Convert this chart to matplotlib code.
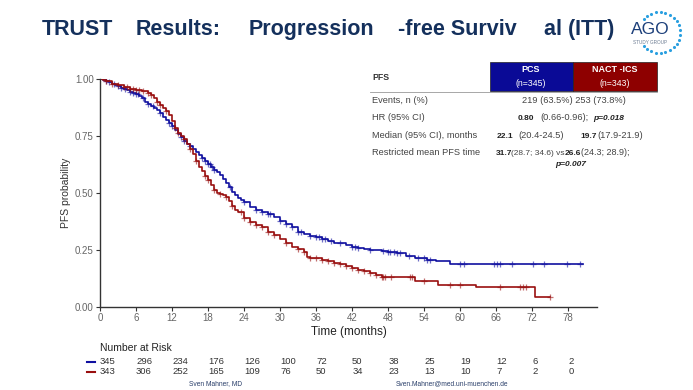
import numpy as np
import matplotlib
matplotlib.use("Agg")
import matplotlib.pyplot as plt
from matplotlib.patches import Rectangle
from matplotlib.transforms import blended_transform_factory

plt.rcParams['font.family'] = ['Liberation Sans', 'DejaVu Sans']

# step points of the two Kaplan-Meier curves (months, PFS probability)
pcs_t = [0, 0.5, 1, 1.5, 2, 2.5, 3, 3.5, 4, 4.5, 5, 5.5, 6, 6.5, 7, 7.5, 8, 8.5, 9, 9.5,
         10, 10.5, 11, 11.5, 12, 12.5, 13, 13.5, 14, 14.5, 15, 15.5, 16, 16.5, 17, 17.5,
         18, 18.5, 19, 19.5, 20, 20.5, 21, 21.5, 22, 22.5, 23, 23.5, 24, 25, 26, 27, 28,
         29, 30, 31, 32, 33, 34, 35, 36, 37, 38, 39, 41, 42, 43, 44, 45, 46, 47, 48, 49.5,
         51, 52.5, 54.5, 56, 58.3, 80.5]
pcs_s = [1.0, 0.995, 0.99, 0.985, 0.98, 0.975, 0.97, 0.962, 0.955, 0.95, 0.945, 0.94, 0.935,
         0.925, 0.915, 0.9, 0.89, 0.882, 0.874, 0.862, 0.85, 0.835, 0.82, 0.808, 0.795, 0.775,
         0.757, 0.745, 0.73, 0.717, 0.705, 0.692, 0.678, 0.665, 0.652, 0.642, 0.628, 0.615,
         0.603, 0.592, 0.58, 0.563, 0.545, 0.525, 0.505, 0.49, 0.478, 0.47, 0.46, 0.44, 0.425,
         0.415, 0.41, 0.395, 0.378, 0.363, 0.35, 0.33, 0.318, 0.31, 0.305, 0.3, 0.29, 0.28,
         0.272, 0.265, 0.26, 0.256, 0.252, 0.25, 0.245, 0.24, 0.236, 0.222, 0.215, 0.206, 0.2,
         0.189, 0.189]
nact_t = [0, 0.5, 1, 2, 3, 4, 5, 6, 7, 8, 8.5, 9, 9.5, 10, 10.5, 11, 11.5, 12, 12.5, 13,
          13.5, 14, 14.5, 15, 15.5, 16, 16.5, 17, 17.5, 18, 18.5, 19, 19.5, 20, 20.5, 21,
          21.5, 22, 22.5, 23, 24, 25, 26, 27, 28, 29, 30, 31, 32, 33, 34, 34.5, 35, 37, 38,
          39, 40, 41, 42, 43, 44, 45, 46, 47, 52.4, 56.3, 62.6, 72.4, 75]
nact_s = [1.0, 0.995, 0.99, 0.98, 0.972, 0.965, 0.958, 0.952, 0.947, 0.94, 0.93, 0.915, 0.9,
          0.888, 0.875, 0.86, 0.84, 0.815, 0.785, 0.765, 0.75, 0.735, 0.715, 0.695, 0.67,
          0.64, 0.615, 0.595, 0.575, 0.555, 0.535, 0.515, 0.5, 0.495, 0.49, 0.482, 0.465,
          0.445, 0.425, 0.415, 0.39, 0.375, 0.36, 0.35, 0.33, 0.315, 0.3, 0.28, 0.265, 0.255,
          0.24, 0.22, 0.215, 0.208, 0.2, 0.195, 0.188, 0.18, 0.172, 0.163, 0.157, 0.15, 0.14,
          0.133, 0.114, 0.096, 0.086, 0.045, 0.045]

# censoring times
pcs_cens = [1, 1.5, 2.3, 3, 3.5, 4.2, 5, 5.5, 6, 6.3, 7.2, 8, 8.8, 10, 11.5, 12, 13.5, 14, 15,
            17, 17.5, 18, 18.3, 18.7, 19, 21.7, 24, 26, 27, 28, 28.3, 30, 31, 32, 33, 33.5, 35,
            36, 36.5, 37, 37.5, 38.5, 40, 42, 42.5, 43, 45, 47.2, 48, 48.3, 49, 49.5, 50, 51.5,
            53, 54, 54.5, 55, 60, 60.6, 65.6, 66.1, 66.7, 68.6, 72.2, 73.9, 77.8, 80]
nact_cens = [1, 2, 3, 4, 4.5, 5, 5.5, 6, 6.5, 7.2, 8, 8.5, 9.5, 10, 11, 12.5, 13, 14, 15, 16,
             17.5, 18, 19, 20, 21, 22, 23.5, 24, 25, 26, 27, 28, 29, 31, 33, 34, 35, 36, 37,
             38, 39, 40, 41, 42, 43, 44, 45, 46, 47, 47.2, 47.5, 48.5, 51.7, 52, 53.9, 58.3,
             60, 66.7, 70, 70.5, 71, 75]

risk_times = [0, 6, 12, 18, 24, 30, 36, 42, 48, 54, 60, 66, 72, 78]
pcs_risk = [345, 296, 234, 176, 126, 100, 72, 50, 38, 25, 19, 12, 6, 2]
nact_risk = [343, 306, 252, 165, 109, 76, 50, 34, 23, 13, 10, 7, 2, 0]

title_words = ['TRUST', 'Results:', 'Progression', '-free Surviv', 'al (ITT)']
title_x = [42, 136, 249, 398, 544]

blue = '#1010a0'
red = '#990f0f'
navy = '#14305c'
W, H = 693, 390

fig = plt.figure(figsize=(6.93, 3.9), dpi=100)
ax = fig.add_axes([100 / W, 1 - 307 / H, 497 / W, 228 / H])


def step_value(t, ts, ss):
    i = np.searchsorted(ts, t, side='right') - 1
    return np.array(ss)[i]


for ts, ss, cens, c in [(pcs_t, pcs_s, pcs_cens, blue), (nact_t, nact_s, nact_cens, red)]:
    ax.step(ts, ss, where='post', color=c, lw=1.2)
    ax.plot(cens, step_value(cens, ts, ss), '+', color=c, ms=5, mew=0.9, alpha=0.6)

ax.set_xlim(0, 82.8)
ax.set_ylim(0, 1.0)
ax.set_xticks(risk_times)
ax.set_yticks([0, 0.25, 0.5, 0.75, 1.0])
ax.set_yticklabels(['0.00', '0.25', '0.50', '0.75', '1.00'])
for s in ['top', 'right']:
    ax.spines[s].set_visible(False)
for s in ['left', 'bottom']:
    ax.spines[s].set_color('#333333')
    ax.spines[s].set_linewidth(1.0)
ax.tick_params(colors='#666666', labelsize=7, length=3, width=0.8, pad=1.5)
ax.tick_params(axis='both', color='#333333')
ax.set_xlabel('Time (months)', fontsize=8.5, color='#222222', labelpad=2)
ax.set_ylabel('PFS probability', fontsize=7.5, color='#333333')
ax.yaxis.set_label_coords(-0.058, 0.5)

# number at risk table
tr = blended_transform_factory(ax.transData, fig.transFigure)
fig.text(100 / W, 1 - 348 / H, 'Number at Risk', fontsize=7.5, color='#222222', va='center')
for row, y, c in [(pcs_risk, 362, blue), (nact_risk, 372, red)]:
    fig.lines.append(plt.Line2D([87 / W, 95 / W], [1 - y / H] * 2, color=c, lw=1.5,
                                transform=fig.transFigure))
    for t, n in zip(risk_times, row):
        ax.text(t, 1 - y / H, str(n), transform=tr, fontsize=6.8, color='#333333',
                ha='left', va='center')

# overlay in pixel coordinates for title, table, logo, footer
ov = fig.add_axes([0, 0, 1, 1], zorder=5)
ov.set_xlim(0, W)
ov.set_ylim(H, 0)
ov.axis('off')

for word, x in zip(title_words, title_x):
    ov.text(x, 35, word, fontsize=15.5, fontweight='bold', color=navy, va='baseline', ha='left')

# logo
ang = np.linspace(np.radians(140), np.radians(-140), 22)
ov.scatter(659.5 + 20.5 * np.cos(ang), 32.5 - 20.5 * np.sin(ang), s=5, color='#2a9fe0', lw=0)
ov.text(650, 29.5, 'AGO', fontsize=12.5, color='#1c3f7a', ha='center', va='center')
ov.text(650, 42, 'STUDY GROUP', fontsize=3.3, color='#6a7a90', ha='center', va='center')

# results table
ov.add_patch(Rectangle((490, 62), 83, 29, facecolor='#0a0a96', edgecolor='#222222', lw=0.5))
ov.add_patch(Rectangle((573, 62), 84, 29, facecolor='#8e0000', edgecolor='#222222', lw=0.5))
ov.text(531, 70, 'PCS', color='white', fontsize=6.5, fontweight='bold', ha='center', va='center')
ov.text(531, 83, '(n=345)', color='white', fontsize=6.3, ha='center', va='center')
ov.text(615, 70, 'NACT -ICS', color='white', fontsize=6.5, fontweight='bold', ha='center', va='center')
ov.text(615, 83, '(n=343)', color='white', fontsize=6.3, ha='center', va='center')
ov.text(372, 77, 'PFS', color='#333333', fontsize=6.3, fontweight='bold', va='center')
ov.plot([370, 657], [91.5, 91.5], color='#999999', lw=0.6)

tc = '#444444'
dk = '#222222'
fs = 6.7
bs = 6.0
rows = [
    (103, [(372, 'Events, n (%)', fs, 'normal', 'normal', tc),
           (522, '219 (63.5%) 253 (73.8%)', fs, 'normal', 'normal', tc)]),
    (120, [(372, 'HR (95% CI)', fs, 'normal', 'normal', tc),
           (518, '0.80', bs, 'bold', 'normal', dk),
           (540, '(0.66-0.96);', fs, 'normal', 'normal', tc),
           (593, 'p=0.018', bs, 'bold', 'italic', dk)]),
    (138, [(372, 'Median (95% CI), months', fs, 'normal', 'normal', tc),
           (497, '22.1', bs, 'bold', 'normal', dk),
           (518, '(20.4-24.5)', fs, 'normal', 'normal', tc),
           (580, '19.7', bs, 'bold', 'normal', dk),
           (597, '(17.9-21.9)', fs, 'normal', 'normal', tc)]),
    (155, [(372, 'Restricted mean PFS time', fs, 'normal', 'normal', tc),
           (496, '31.7', bs, 'bold', 'normal', dk),
           (511, '(28.7; 34.6) vs', 6.0, 'normal', 'normal', tc),
           (565, '26.6', bs, 'bold', 'normal', dk),
           (581, '(24.3; 28.9);', 6.5, 'normal', 'normal', tc)]),
    (166, [(555, 'p=0.007', bs, 'bold', 'italic', dk)]),
]
for y, items in rows:
    for x, s, size, wt, st, col in items:
        ov.text(x, y, s, color=col, fontsize=size, fontweight=wt, style=st, va='baseline')

# footer
ov.text(216, 384, 'Sven Mahner, MD', color='#2a3f6a', fontsize=4.8, ha='center', va='center')
ov.text(452, 384, 'Sven.Mahner@med.uni-muenchen.de', color='#2a3f6a', fontsize=4.8,
        ha='center', va='center')

fig.savefig('out.png', dpi=100)
